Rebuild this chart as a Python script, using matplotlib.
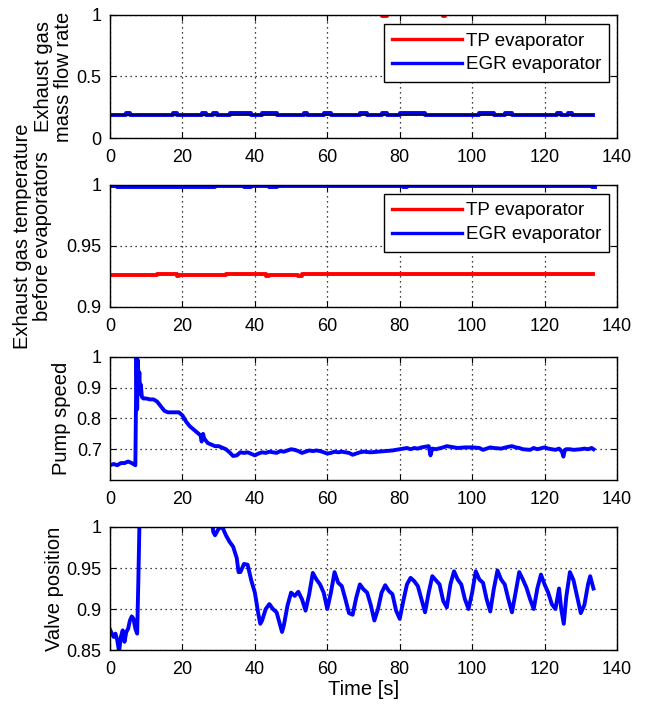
import matplotlib
matplotlib.use("Agg")
import matplotlib.pyplot as plt
from matplotlib.lines import Line2D

plt.rcParams['font.family'] = ['Liberation Sans', 'DejaVu Sans']
plt.rcParams['font.size'] = 13

# ---------------- data ----------------
# Panel 1: normalised exhaust gas mass flow rate
flow_t = [0, 4.5, 5.5, 17.5, 18.5, 25.5, 26.5, 28.5, 29.5, 33, 39, 42, 46, 53.5, 54.5,
          59, 61, 69, 71, 75, 76.5, 80, 87, 102, 106, 109, 111, 123.5, 124.5, 126.5, 127.5, 133.5]
flow_egr = [0.19, 0.20, 0.19, 0.20, 0.19, 0.20, 0.19, 0.20, 0.19, 0.20, 0.19, 0.20, 0.19, 0.20, 0.19,
            0.20, 0.19, 0.20, 0.19, 0.20, 0.19, 0.20, 0.19, 0.20, 0.19, 0.20, 0.19, 0.20, 0.19, 0.20, 0.19, 0.19]
flow_tp_t = [0, 74.5, 75, 76, 76.5, 91.5, 92, 92.5, 133.5]
flow_tp = [1.02, 1.02, 0.99, 0.99, 1.02, 1.02, 0.99, 1.02, 1.02]

# Panel 2: normalised exhaust gas temperature before evaporators
temp_tp_t = [0, 13, 18, 18.5, 19, 32, 42, 43, 44, 52, 53, 133.5]
temp_tp = [0.926, 0.927, 0.927, 0.925, 0.926, 0.927, 0.927, 0.925, 0.926, 0.925, 0.927, 0.927]
temp_egr_t = [0, 2, 29, 37, 39, 44, 46, 81, 82, 133, 134]
temp_egr = [0.9995, 0.9985, 0.9995, 0.998, 0.9995, 0.998, 0.9995, 0.998, 0.9995, 0.998, 0.998]

# Panel 3: pump speed
pump_t = [0, 1, 2, 3, 4, 5, 6, 7, 7.3, 7.5, 7.7, 7.9, 8.1, 8.3, 8.5, 8.8, 9.2, 10, 11, 12,
          13, 14, 15, 16, 17, 18, 19, 20, 21, 22, 23, 24, 24.5, 25, 25.3, 25.7, 26, 27, 28, 29,
          30, 31, 32, 33, 34, 35, 36, 37, 38, 39, 40, 41, 42, 43, 44, 45, 46, 47, 48, 49,
          50, 51, 52, 53, 54, 55, 56, 57, 58, 59, 60, 61, 62, 63, 64, 65, 66, 67, 68, 69,
          70, 72, 74, 76, 78, 80, 82, 83, 84, 85, 86, 87, 88, 88.5, 89, 90, 92, 93, 94, 95,
          96, 98, 100, 102, 103, 104, 105, 106, 108, 110, 111, 112, 113, 114, 116, 117, 118, 120, 121, 122,
          123, 124, 124.8, 125.2, 125.6, 126, 127, 128, 130, 131, 132, 133, 133.5]
pump = [0.648, 0.652, 0.648, 0.655, 0.655, 0.660, 0.655, 0.648, 1.00, 0.83, 0.99, 0.90, 0.95, 0.88, 0.91, 0.870, 0.865, 0.865, 0.862, 0.862,
        0.855, 0.840, 0.825, 0.820, 0.820, 0.820, 0.820, 0.810, 0.790, 0.775, 0.765, 0.755, 0.750, 0.745, 0.725, 0.750, 0.735, 0.720, 0.715, 0.710,
        0.710, 0.705, 0.700, 0.690, 0.678, 0.680, 0.690, 0.688, 0.690, 0.685, 0.680, 0.686, 0.690, 0.688, 0.692, 0.690, 0.688, 0.694, 0.692, 0.696,
        0.700, 0.698, 0.694, 0.688, 0.692, 0.696, 0.694, 0.696, 0.694, 0.690, 0.686, 0.688, 0.692, 0.690, 0.692, 0.690, 0.688, 0.682, 0.686, 0.690,
        0.692, 0.690, 0.692, 0.694, 0.696, 0.700, 0.704, 0.700, 0.704, 0.702, 0.706, 0.708, 0.710, 0.680, 0.702, 0.700, 0.706, 0.710, 0.708, 0.706,
        0.704, 0.706, 0.706, 0.704, 0.698, 0.702, 0.706, 0.704, 0.702, 0.708, 0.710, 0.706, 0.704, 0.700, 0.698, 0.704, 0.700, 0.706, 0.702, 0.700,
        0.698, 0.702, 0.692, 0.676, 0.698, 0.700, 0.700, 0.698, 0.700, 0.702, 0.700, 0.704, 0.700]

# Panel 4: valve position
valve_t = [0, 0.5, 1, 1.5, 2, 2.5, 3, 3.5, 4, 4.5, 5, 5.5, 6, 6.5, 7, 7.5, 7.8, 8.2, 28, 28.5,
           29, 30, 31, 32, 33, 34, 35, 35.5, 36, 37, 38, 39, 40, 41, 41.5, 42, 43, 44, 45, 46,
           47, 47.5, 48, 49, 50, 51, 52, 53, 54, 55, 56, 57, 58, 59, 60, 61, 62, 63, 64, 65,
           66, 67, 68, 69, 70, 71, 72, 73, 74, 75, 76, 77, 78, 79, 80, 81, 82, 83, 84, 85,
           86, 87, 88, 89, 90, 91, 92, 93, 94, 95, 96, 97, 98, 99, 100, 101, 102, 103, 104, 105,
           106, 107, 108, 109, 110, 111, 112, 113, 114, 115, 116, 117, 118, 119, 120, 121, 122, 123, 124, 124.6,
           125.3, 126, 127, 128, 129, 130, 131, 132, 132.6, 133.5]
valve = [0.875, 0.870, 0.866, 0.870, 0.862, 0.848, 0.866, 0.874, 0.860, 0.872, 0.876, 0.886, 0.891, 0.888, 0.876, 0.870, 0.930, 1.02, 1.02, 0.994,
         0.990, 0.998, 1.000, 0.990, 0.982, 0.976, 0.962, 0.945, 0.945, 0.955, 0.954, 0.935, 0.920, 0.893, 0.882, 0.886, 0.900, 0.906, 0.900, 0.896,
         0.880, 0.872, 0.880, 0.904, 0.920, 0.916, 0.921, 0.912, 0.898, 0.918, 0.944, 0.936, 0.930, 0.920, 0.900, 0.920, 0.945, 0.932, 0.928, 0.912,
         0.895, 0.893, 0.914, 0.930, 0.924, 0.920, 0.905, 0.886, 0.900, 0.920, 0.929, 0.922, 0.918, 0.898, 0.888, 0.910, 0.930, 0.938, 0.934, 0.928,
         0.912, 0.896, 0.920, 0.940, 0.935, 0.930, 0.910, 0.902, 0.930, 0.946, 0.936, 0.930, 0.912, 0.900, 0.920, 0.946, 0.936, 0.932, 0.912, 0.897,
         0.925, 0.947, 0.936, 0.930, 0.912, 0.896, 0.920, 0.945, 0.936, 0.926, 0.912, 0.900, 0.925, 0.942, 0.930, 0.920, 0.906, 0.900, 0.925, 0.900,
         0.882, 0.915, 0.945, 0.935, 0.915, 0.895, 0.905, 0.930, 0.940, 0.925]

legend_labels = ['TP evaporator', 'EGR evaporator']
xticks = [0, 20, 40, 60, 80, 100, 120, 140]

RED = '#ff0000'
BLUE = '#0000ff'
LW = 2.8
LABEL_FS = 14.5

fig = plt.figure(figsize=(6.46, 7.07), dpi=100)
left, width = 0.1703, 0.7848
rows = [(0.8048, 0.1740), (0.5658, 0.1726), (0.3211, 0.1740), (0.0806, 0.1740)]
axes = [fig.add_axes([left, b, width, h]) for b, h in rows]

for ax in axes:
    ax.set_xlim(0, 140)
    ax.set_xticks(xticks)
    ax.grid(True, linestyle=(0, (1, 3)), color='black', linewidth=0.9)
    ax.tick_params(direction='in', top=True, right=True, length=4, width=0.8)
    ax.tick_params(axis='x', pad=8)
    ax.tick_params(axis='y', pad=6)
    for s in ax.spines.values():
        s.set_linewidth(1.0)
        s.set_zorder(5)

# Panel 1
ax = axes[0]
ax.plot(flow_tp_t, flow_tp, color=RED, lw=LW, drawstyle='steps-post')
ax.plot(flow_t, flow_egr, color=BLUE, lw=LW, drawstyle='steps-post')
ax.plot(flow_t, [0.19] * len(flow_t), color='#000050', lw=1.3)
ax.set_ylim(0, 1)
ax.set_yticks([0, 0.5, 1])
ax.set_yticklabels(['0', '0.5', '1'])
ax.set_ylabel('Exhaust gas\nmass flow rate', fontsize=LABEL_FS, linespacing=1.05, labelpad=3)

# Panel 2
ax = axes[1]
ax.plot(temp_tp_t, temp_tp, color=RED, lw=LW, drawstyle='steps-post')
ax.plot(temp_egr_t, temp_egr, color=BLUE, lw=LW, drawstyle='steps-post')
ax.set_ylim(0.9, 1)
ax.set_yticks([0.9, 0.95, 1])
ax.set_yticklabels(['0.9', '0.95', '1'])
ax.set_ylabel('Exhaust gas temperature\nbefore evaporators', fontsize=LABEL_FS, linespacing=1.05)
ax.yaxis.set_label_coords(-0.114, 0.58)

# Panel 3
ax = axes[2]
ax.plot(pump_t, pump, color=BLUE, lw=LW)
ax.set_ylim(0.6, 1)
ax.set_yticks([0.7, 0.8, 0.9, 1])
ax.set_yticklabels(['0.7', '0.8', '0.9', '1'])
ax.set_ylabel('Pump speed', fontsize=LABEL_FS, labelpad=4)

# Panel 4
ax = axes[3]
ax.plot(valve_t, valve, color=BLUE, lw=LW)
ax.set_ylim(0.85, 1)
ax.set_yticks([0.85, 0.9, 0.95, 1])
ax.set_yticklabels(['0.85', '0.9', '0.95', '1'])
ax.set_ylabel('Valve position', fontsize=LABEL_FS, labelpad=2)
ax.set_xlabel('Time [s]', fontsize=LABEL_FS, labelpad=1)

# Legends on the first two panels
for ax in axes[:2]:
    handles = [Line2D([], [], color=RED, lw=2.4), Line2D([], [], color=BLUE, lw=2.4)]
    leg = ax.legend(handles, legend_labels, loc='upper right', bbox_to_anchor=(0.985, 0.927),
                    fancybox=False, framealpha=1, edgecolor='black', handlelength=3.7,
                    handletextpad=0.2, borderpad=0.45, labelspacing=0.35, borderaxespad=0,
                    fontsize=13.5)
    leg.get_frame().set_linewidth(1.0)
    leg.set_zorder(6)

fig.savefig('out.png', dpi=100)
